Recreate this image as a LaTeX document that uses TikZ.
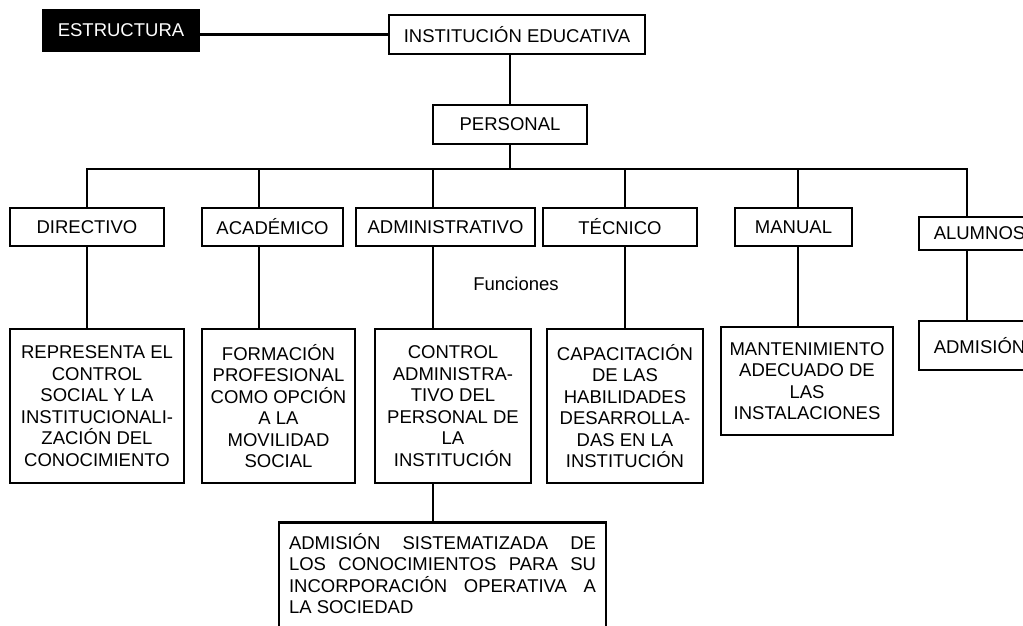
\documentclass[tikz,border=0pt]{standalone}
\usepackage{fontspec}
\setmainfont{Liberation Sans}
\begin{document}
\begin{tikzpicture}[x=1pt,y=-1pt,
  every node/.style={font=\fontsize{18.5}{21.5}\selectfont, inner sep=0pt},
  box/.style={draw, line width=2.6pt, align=center},
  con/.style={line width=2.6pt}]
\useasboundingbox (0,0) rectangle (1023,626);
\clip (0,0) rectangle (1023,626);

% top
\node[box, fill=black, text=white, minimum width=156pt, minimum height=41pt] (estr) at (121,30.5) {ESTRUCTURA};
\node[box, minimum width=256pt, minimum height=39pt] (inst) at (517,34.5) {INSTITUCIÓN EDUCATIVA};
\node[box, minimum width=154pt, minimum height=39pt] (pers) at (510,124.5) {PERSONAL};

% second level
\node[box, minimum width=154pt, minimum height=38pt] (dir) at (87,227) {DIRECTIVO};
\node[box, minimum width=141pt, minimum height=38pt] (acad) at (272.5,227) {ACADÉMICO};
\node[box, minimum width=179pt, minimum height=38pt] (adm) at (445.5,227) {ADMINISTRATIVO};
\node[box, minimum width=154pt, minimum height=38pt] (tec) at (620,227) {TÉCNICO};
\node[box, minimum width=117pt, minimum height=38pt] (man) at (793.5,227) {MANUAL};
\node[box, minimum width=121pt, minimum height=33pt] (alu) at (979.5,233.5) {ALUMNOS};

\node (fun) at (516,284) {Funciones};

% functions
\node[box, minimum width=174pt, minimum height=154pt] (dirf) at (97,406)
  {REPRESENTA EL\\CONTROL\\SOCIAL Y LA\\INSTITUCIONALI-\\ZACIÓN DEL\\CONOCIMIENTO};
\node[box, minimum width=153pt, minimum height=154pt] (acadf) at (278.5,406)
  {FORMACIÓN\\PROFESIONAL\\COMO OPCIÓN\\A LA\\MOVILIDAD\\SOCIAL};
\node[box, minimum width=156pt, minimum height=154pt] (admf) at (453,406)
  {CONTROL\\ADMINISTRA-\\TIVO DEL\\PERSONAL DE\\LA\\INSTITUCIÓN};
\node[box, minimum width=156pt, minimum height=154pt] (tecf) at (625,406)
  {CAPACITACIÓN\\DE LAS\\HABILIDADES\\DESARROLLA-\\DAS EN LA\\INSTITUCIÓN};
\node[box, minimum width=172pt, minimum height=108pt] (manf) at (807,381)
  {MANTENIMIENTO\\ADECUADO DE\\LAS\\INSTALACIONES};
\node[box, minimum width=121pt, minimum height=49pt] (admif) at (979.5,345.5) {ADMISIÓN};

\node[draw, line width=2.6pt, anchor=north, minimum width=327pt, inner xsep=10pt, inner ysep=11pt] (soc) at (442.5,521)
  {\parbox[b][120pt][t]{307pt}{%
    \makebox[307pt][s]{ADMISIÓN SISTEMATIZADA DE}\\
    \makebox[307pt][s]{LOS CONOCIMIENTOS PARA SU}\\
    \makebox[307pt][s]{INCORPORACIÓN OPERATIVA A}\\
    LA SOCIEDAD}};

% connectors
\draw[con] (estr.east |- inst.west) -- (inst.west);
\draw[con] (pers.north) -- (pers.north |- inst.south);
\coordinate (b1) at (87,169);
\coordinate (b2) at (259,169);
\coordinate (b3) at (433,169);
\coordinate (b4) at (625,169);
\coordinate (b5) at (798,169);
\coordinate (b6) at (967,169);
\draw[con] (pers.south) -- (pers.south |- b1);
\draw[con, line cap=rect] (b1) -- (b6);
\draw[con] (b1) -- (b1 |- dir.north);
\draw[con] (b2) -- (b2 |- acad.north);
\draw[con] (b3) -- (b3 |- adm.north);
\draw[con] (b4) -- (b4 |- tec.north);
\draw[con] (b5) -- (b5 |- man.north);
\draw[con] (b6) -- (b6 |- alu.north);
\draw[con] (b1 |- dir.south) -- (b1 |- dirf.north);
\draw[con] (b2 |- acad.south) -- (b2 |- acadf.north);
\draw[con] (b3 |- adm.south) -- (b3 |- admf.north);
\draw[con] (b4 |- tec.south) -- (b4 |- tecf.north);
\draw[con] (b5 |- man.south) -- (b5 |- manf.north);
\draw[con] (b6 |- alu.south) -- (b6 |- admif.north);
\draw[con] (b3 |- admf.south) -- (b3 |- soc.north);
\end{tikzpicture}
\end{document}
